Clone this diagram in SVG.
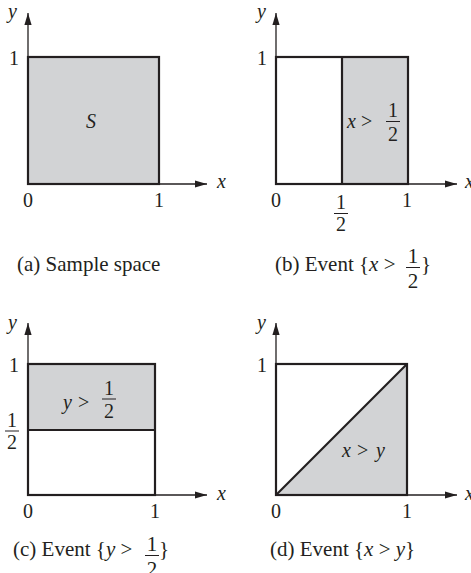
<svg xmlns="http://www.w3.org/2000/svg" width="471" height="573" viewBox="0 0 471 573">
<style>
text{font-family:'Liberation Serif','Nimbus Roman','Nimbus Roman No9 L','FreeSerif','Tinos','DejaVu Serif','Noto Serif',Times,serif;font-size:20px;fill:#231f20}
.i{font-style:italic}
.m{text-anchor:middle}
.cap{font-size:21px}
.ax{stroke:#231f20;stroke-width:1.3;fill:none}
.box{stroke:#231f20;stroke-width:2.2;fill:none}
.sh{fill:#d2d3d5;stroke:none}
.fb{stroke:#231f20;stroke-width:1}
</style>
<defs>
<marker id="ah" markerWidth="12" markerHeight="8" viewBox="-12 -4 12 8" refX="0" refY="0" orient="auto" markerUnits="userSpaceOnUse">
<path d="M0,0 L-12,-3.6 L-12,3.6 Z" fill="#231f20"/>
</marker>
</defs>

<g id="panel-a">
<rect class="sh" x="28" y="57" width="131" height="127"/>
<g class="axes">
<line class="ax" x1="28" y1="184" x2="28" y2="13" marker-end="url(#ah)"/>
<line class="ax" x1="28" y1="184" x2="207" y2="184" marker-end="url(#ah)"/>
</g>
<rect class="box" x="28" y="57" width="131" height="127"/>
<text class="i" x="8" y="18">y</text>
<text class="m" x="14" y="65">1</text>
<text class="i m" x="91" y="128">S</text>
<text class="i" x="217" y="188">x</text>
<text class="m" x="28" y="207">0</text>
<text class="m" x="159" y="207">1</text>
<text class="cap" x="17" y="271">(a) Sample space</text>
</g>

<g id="panel-b">
<rect class="sh" x="342" y="57" width="66" height="127"/>
<g class="axes">
<line class="ax" x1="276" y1="184" x2="276" y2="13" marker-end="url(#ah)"/>
<line class="ax" x1="276" y1="184" x2="457" y2="184" marker-end="url(#ah)"/>
</g>
<rect class="box" x="276" y="57" width="132" height="127"/>
<line class="box" x1="342" y1="57" x2="342" y2="184"/>
<text class="i" x="257" y="18">y</text>
<text class="m" x="262" y="65">1</text>
<text class="i" x="347" y="128">x</text>
<text x="361" y="128">&gt;</text>
<text class="m" x="393" y="117">1</text>
<line class="fb" x1="386" y1="121.5" x2="400" y2="121.5"/>
<text class="m" x="393" y="141">2</text>
<text class="m" x="276" y="207">0</text>
<text class="m" x="341" y="209">1</text>
<line class="fb" x1="334" y1="213.5" x2="348" y2="213.5"/>
<text class="m" x="341" y="231">2</text>
<text class="m" x="407" y="207">1</text>
<text class="i" x="465" y="188">x</text>
<text class="cap" x="275" y="271">(b) Event {<tspan class="i">x</tspan> &gt;</text>
<text class="cap m" x="413" y="263">1</text>
<line class="fb" x1="406" y1="267.5" x2="420" y2="267.5"/>
<text class="cap m" x="413" y="288">2</text>
<text class="cap" x="421" y="271">}</text>
</g>

<g id="panel-c">
<rect class="sh" x="28" y="364" width="127" height="66"/>
<g class="axes">
<line class="ax" x1="28" y1="495" x2="28" y2="323" marker-end="url(#ah)"/>
<line class="ax" x1="28" y1="495" x2="207" y2="495" marker-end="url(#ah)"/>
</g>
<rect class="box" x="28" y="364" width="127" height="131"/>
<line class="box" x1="28" y1="430" x2="155" y2="430"/>
<text class="i" x="8" y="329">y</text>
<text class="m" x="14" y="372">1</text>
<text class="m" x="12" y="427">1</text>
<line class="fb" x1="5" y1="431" x2="19" y2="431"/>
<text class="m" x="12" y="449">2</text>
<text class="i" x="63" y="409">y</text>
<text x="78" y="409">&gt;</text>
<text class="m" x="109" y="395">1</text>
<line class="fb" x1="102" y1="399" x2="116" y2="399"/>
<text class="m" x="109" y="418">2</text>
<text class="i" x="217" y="500">x</text>
<text class="m" x="28" y="518">0</text>
<text class="m" x="155" y="518">1</text>
<text class="cap" x="13" y="556">(c) Event {<tspan class="i">y</tspan> &gt;</text>
<text class="cap m" x="152" y="551">1</text>
<line class="fb" x1="145" y1="555.5" x2="159" y2="555.5"/>
<text class="cap m" x="152" y="576">2</text>
<text class="cap" x="159" y="556">}</text>
</g>

<g id="panel-d">
<polygon class="sh" points="276,495 407,364 407,495"/>
<g class="axes">
<line class="ax" x1="276" y1="495" x2="276" y2="323" marker-end="url(#ah)"/>
<line class="ax" x1="276" y1="495" x2="457" y2="495" marker-end="url(#ah)"/>
</g>
<rect class="box" x="276" y="364" width="131" height="131"/>
<line class="box" x1="276" y1="495" x2="407" y2="364"/>
<text class="i" x="257" y="329">y</text>
<text class="m" x="262" y="372">1</text>
<text class="i" x="342" y="457">x</text>
<text x="357" y="457">&gt;</text>
<text class="i" x="376" y="457">y</text>
<text class="m" x="276" y="518">0</text>
<text class="m" x="407" y="518">1</text>
<text class="i" x="465" y="500">x</text>
<text class="cap" x="270" y="556">(d) Event {<tspan class="i">x</tspan> &gt; <tspan class="i">y</tspan>}</text>
</g>
</svg>
